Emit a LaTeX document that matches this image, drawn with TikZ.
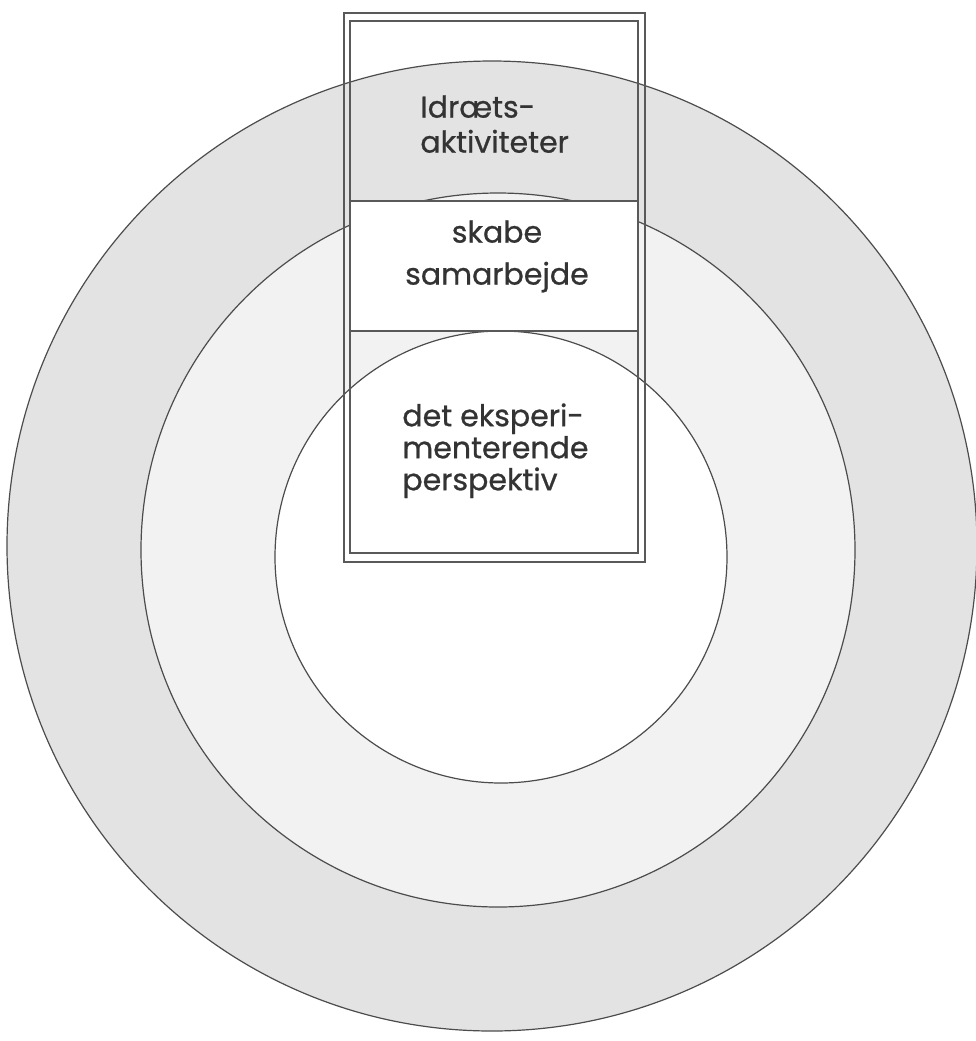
\documentclass[tikz,border=0pt]{standalone}
\usepackage{fontspec}
\setmainfont{Poppins}[FakeBold=0.8]
\usetikzlibrary{positioning}
\tikzset{
    ringline/.style={
        draw=black!70,
        line width=0.6pt
    },
    frameline/.style={
        draw=black!65,
        line width=0.6pt
    },
    ringtext/.style={
        inner sep=0pt,
        align=left,
        text=black!80,
        font=\fontsize{15}{17.5}\selectfont
    }
}

\begin{document}
\begin{tikzpicture}[
        x=0.5pt, y=-0.5pt,
        outerfill/.style={fill=black!11},
        middlefill/.style={fill=black!5},
    ]
    \useasboundingbox (0,0) rectangle (976,1041);
    \coordinate (co) at (492,546);
    \coordinate (cm) at (498,550);
    \coordinate (ci) at (501,557);
    \fill[outerfill] (co) circle[radius=485];
    \fill[middlefill] (cm) circle[radius=357];
    \fill[white] (ci) circle[radius=226];
    \draw[ringline] (co) circle[radius=485];
    \draw[ringline] (cm) circle[radius=357];
    \draw[ringline] (ci) circle[radius=226];

    \fill[white] (350,201) rectangle (638,331);
    \draw[frameline] (344,13) rectangle (645,562);
    \draw[frameline] (350,21) rectangle (638,553);
    \draw[frameline] (350,201) -- (638,201);
    \draw[frameline] (350,331) -- (638,331);

    \node[ringtext, anchor=north west] (sport) at (420,95) {Idræts-\\aktiviteter};
    \node[ringtext, anchor=north, align=center,
        font=\fontsize{15}{21}\selectfont] (samarb) at (497,220) {skabe\\samarbejde};
    \node[ringtext, anchor=north west,
        font=\fontsize{15}{16}\selectfont] (persp) at (402,403) {det eksperi-\\menterende\\perspektiv};
\end{tikzpicture}
\end{document}
